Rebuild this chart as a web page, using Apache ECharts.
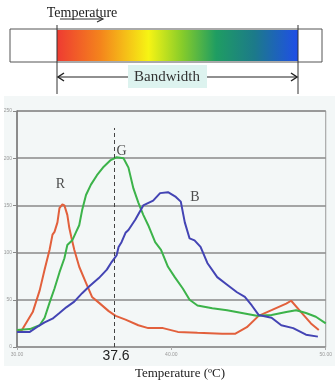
<!DOCTYPE html>
<html><head><meta charset="utf-8">
<script src="https://cdn.jsdelivr.net/npm/echarts@6/dist/echarts.min.js"></script>
<style>html,body{margin:0;padding:0;background:#fff}#c{width:335px;height:383px}</style>
</head><body><div id="c"></div>
<script>
const xTicks = [30, 40, 50];
const yTicks = [0, 50, 100, 150, 200, 250];
const markerValue = 36.33;
const markerLabel = '37.6';
const red = [[30.0,18],[30.32,18],[31.02,37],[31.47,60],[31.79,82],[32.11,103],[32.30,119],[32.43,122],[32.62,132],[32.75,147],[32.94,151],[33.07,150],[33.26,140],[33.39,126],[33.51,117],[33.71,103],[34.03,85],[34.47,68],[34.86,53],[35.30,47],[35.94,38],[36.39,33],[37.03,29],[37.86,23],[38.50,20],[39.46,20],[40.42,16],[41.69,15],[43.29,14],[44.12,14],[44.89,21],[45.65,33],[46.49,39],[47.44,46],[47.76,49],[48.40,37],[49.04,25],[49.55,18]];
const green = [[30.0,18],[30.83,19],[31.47,23],[31.79,31],[32.11,47],[32.43,62],[32.75,79],[33.07,94],[33.26,108],[33.58,113],[33.83,122],[34.03,129],[34.22,145],[34.47,161],[34.79,172],[35.18,182],[35.62,191],[36.07,198],[36.45,201],[36.90,200],[37.22,190],[37.54,168],[37.86,153],[38.18,140],[38.50,129],[38.95,111],[39.33,103],[39.78,85],[40.22,74],[40.74,62],[41.18,50],[41.69,44],[42.65,41],[43.61,39],[44.57,36],[45.53,33],[46.49,34],[47.44,37],[48.08,39],[48.72,36],[49.36,32],[50.0,25]];
const blue = [[30.0,16],[30.83,16],[31.28,21],[31.79,26],[32.30,30],[32.75,36],[33.19,42],[33.71,48],[34.22,57],[34.67,64],[35.30,73],[35.82,82],[36.13,90],[36.45,97],[36.58,106],[36.77,111],[37.03,121],[37.22,124],[37.67,135],[38.18,150],[38.82,155],[39.27,163],[39.78,164],[40.29,159],[40.61,154],[40.87,132],[41.18,115],[41.50,113],[41.89,106],[42.33,89],[42.97,74],[43.61,66],[44.25,58],[44.76,53],[45.21,44],[45.65,34],[46.49,31],[47.12,23],[47.89,20],[48.72,13],[49.49,11]];
const seriesNames = ['R','G','B'];
const peakPoints = [[32.94,151],[36.45,201],[39.78,164]];

const chart = echarts.init(document.getElementById('c'));
const serif = '"Liberation Serif", "DejaVu Serif", serif';
const lineSeries = (name, data, color) => ({
  name, type: 'line', data, showSymbol: false, smooth: false,
  lineStyle: {color, width: 2}, z: 3
});
const labelOffsets = [[-2, -8], [5, 6], [27, 17]];
chart.setOption({
  animation: false,
  backgroundColor: '#fff',
  grid: {left: 17, right: 4, top: 111, bottom: 36, show: true, borderColor: '#9a9a9a', borderWidth: 1, backgroundColor: 'transparent'},
  xAxis: {type: 'value', min: xTicks[0], max: xTicks[xTicks.length-1], interval: 10,
    axisLine: {show: true, lineStyle: {color: '#999'}}, axisTick: {show: true, length: 3, lineStyle: {color: '#aaa'}},
    splitLine: {show: false},
    axisLabel: {fontSize: 5, color: '#999', margin: 5, formatter: v => v.toFixed(2)}},
  yAxis: {type: 'value', min: yTicks[0], max: yTicks[yTicks.length-1], interval: 50,
    axisLine: {show: true, lineStyle: {color: '#777', width: 1.5}}, axisTick: {show: true, length: 4, lineStyle: {color: '#888'}},
    splitLine: {show: true, lineStyle: {color: '#8a8a8a', width: 1.5}},
    axisLabel: {fontSize: 5, color: '#999', margin: 5}},
  graphic: [
    {type: 'rect', shape: {x: 4, y: 96, width: 331, height: 270}, style: {fill: '#f3f7f7'}, z: -10, silent: true},
    {type: 'rect', shape: {x: 10, y: 29, width: 312, height: 33}, style: {fill: '#fff', stroke: '#555', lineWidth: 1}},
    {type: 'rect', shape: {x: 57, y: 30, width: 241, height: 31},
      style: {fill: new echarts.graphic.LinearGradient(0,0,1,0,[
        {offset: 0, color: '#ee3b32'}, {offset: 0.18, color: '#f4841c'}, {offset: 0.38, color: '#f6f414'},
        {offset: 0.52, color: '#86cc2a'}, {offset: 0.66, color: '#1f9d62'}, {offset: 0.82, color: '#1c7a8a'},
        {offset: 1, color: '#1f4ee8'}])}},
    {type: 'line', shape: {x1: 57, y1: 25, x2: 57, y2: 94}, style: {stroke: '#333', lineWidth: 1}},
    {type: 'line', shape: {x1: 298, y1: 25, x2: 298, y2: 94}, style: {stroke: '#333', lineWidth: 1}},
    {type: 'text', x: 82, y: 13, style: {text: 'Temperature', font: '14px ' + serif, fill: '#222', align: 'center', verticalAlign: 'middle'}},
    {type: 'line', shape: {x1: 60, y1: 19, x2: 102, y2: 19}, style: {stroke: '#333', lineWidth: 1.2}},
    {type: 'polyline', shape: {points: [[97,16],[103,19],[97,22]]}, style: {stroke: '#333', lineWidth: 1.2, fill: null}},
    {type: 'line', shape: {x1: 58, y1: 77, x2: 297, y2: 77}, style: {stroke: '#222', lineWidth: 1.2}},
    {type: 'polyline', shape: {points: [[64,73],[58,77],[64,81]]}, style: {stroke: '#222', lineWidth: 1.5, fill: null}},
    {type: 'polyline', shape: {points: [[291,73],[297,77],[291,81]]}, style: {stroke: '#222', lineWidth: 1.5, fill: null}},
    {type: 'rect', shape: {x: 128, y: 65, width: 79, height: 23}, style: {fill: '#ddf3ef'}},
    {type: 'text', x: 167, y: 77, style: {text: 'Bandwidth', font: '15px ' + serif, fill: '#333', align: 'center', verticalAlign: 'middle'}},
    {type: 'text', x: 116, y: 356, style: {text: markerLabel, font: '14px "Liberation Sans", Arial, sans-serif', fill: '#222', align: 'center', verticalAlign: 'middle'}},
    {type: 'text', x: 180, y: 374, style: {text: 'Temperature (ºC)', font: '13px ' + serif, fill: '#222', align: 'center', verticalAlign: 'middle'}}
  ],
  series: [
    lineSeries(seriesNames[0], red, '#e2603c'),
    lineSeries(seriesNames[1], green, '#3cb34a'),
    lineSeries(seriesNames[2], blue, '#4344b4'),
    {type: 'scatter', symbolSize: 0, z: 5,
      data: peakPoints.map((p, i) => ({value: [p[0], p[1]], name: seriesNames[i], label: {offset: labelOffsets[i]}})),
      label: {show: true, position: 'top', formatter: p => p.name, fontFamily: serif, fontSize: 14, color: '#222'},
      markLine: {silent: true, symbol: 'none', label: {show: false},
        lineStyle: {color: '#444', type: [4, 3], width: 1},
        data: [[{coord: [markerValue, 0]}, {coord: [markerValue, 232]}]]}}
  ]
});
</script></body></html>
